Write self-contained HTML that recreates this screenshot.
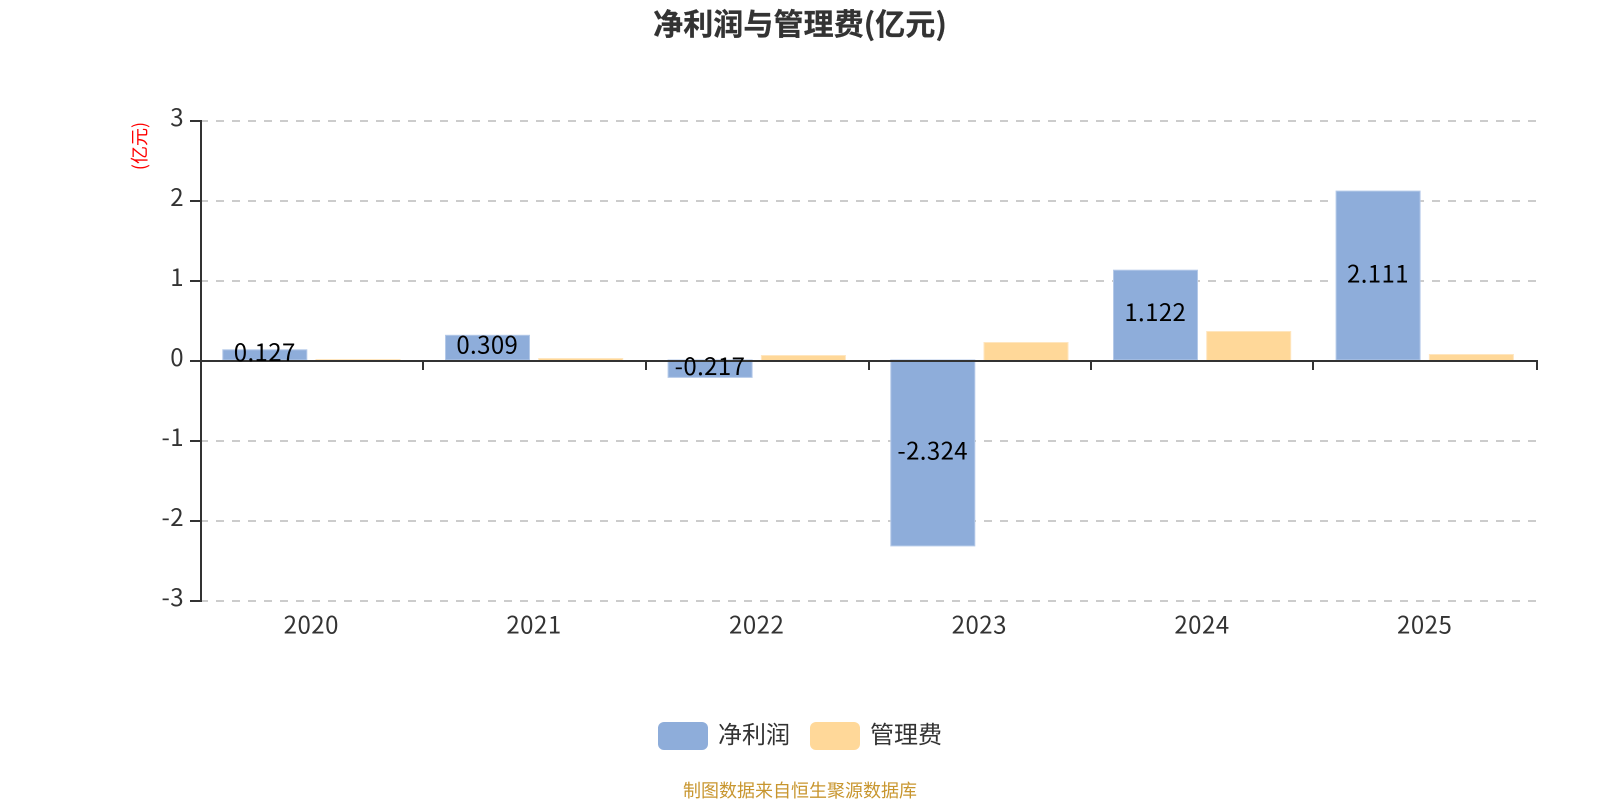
<!DOCTYPE html>
<html lang="zh">
<head>
<meta charset="utf-8">
<style>
html,body{margin:0;padding:0;background:#fff;width:1600px;height:800px;overflow:hidden}
svg{display:block}
text{font-family:"Noto Sans CJK SC","Liberation Sans",sans-serif}
</style>
</head>
<body>
<svg width="1600" height="800" viewBox="0 0 1600 800" xmlns="http://www.w3.org/2000/svg">
<rect width="1600" height="800" fill="#fff"/>
<text x="800" y="35" text-anchor="middle" font-size="30" font-weight="700" fill="#333" stroke="#333" stroke-width="0.3" letter-spacing="0.1">净利润与管理费(亿元)</text>
<g stroke="#ccc" stroke-width="2" stroke-dasharray="8 8">
<line x1="200" x2="1536" y1="121" y2="121"/>
<line x1="200" x2="1536" y1="201" y2="201"/>
<line x1="200" x2="1536" y1="281" y2="281"/>
<line x1="200" x2="1536" y1="441" y2="441"/>
<line x1="200" x2="1536" y1="521" y2="521"/>
<line x1="200" x2="1536" y1="601" y2="601"/>
</g>
<g fill="#8eadda" stroke="#b4c9e8" stroke-width="1">
<rect x="222.8" y="349.8" width="84" height="10.2"/>
<rect x="445.5" y="335.3" width="84" height="24.7"/>
<rect x="668.1" y="360" width="84" height="17.4"/>
<rect x="890.8" y="360" width="84" height="185.9"/>
<rect x="1113.5" y="270.2" width="84" height="89.8"/>
<rect x="1336.1" y="191.1" width="84" height="168.9"/>
</g>
<g fill="#ffd899" stroke="#ffe6bf" stroke-width="1">
<rect x="316" y="359.5" width="84" height="1"/>
<rect x="538.7" y="358.5" width="84" height="2"/>
<rect x="761.4" y="355.5" width="84" height="5"/>
<rect x="984" y="342.5" width="84" height="18"/>
<rect x="1206.7" y="331.5" width="84" height="29"/>
<rect x="1429.4" y="354.5" width="84" height="6"/>
</g>
<g fill="#333">
<rect x="200" y="120" width="2" height="482"/>
<rect x="200" y="360" width="1338" height="2"/>
<rect x="190" y="120" width="10" height="2"/>
<rect x="190" y="200" width="10" height="2"/>
<rect x="190" y="280" width="10" height="2"/>
<rect x="190" y="360" width="10" height="2"/>
<rect x="190" y="440" width="10" height="2"/>
<rect x="190" y="520" width="10" height="2"/>
<rect x="190" y="600" width="10" height="2"/>
<rect x="422" y="362" width="2" height="8"/>
<rect x="645" y="362" width="2" height="8"/>
<rect x="868" y="362" width="2" height="8"/>
<rect x="1090" y="362" width="2" height="8"/>
<rect x="1312" y="362" width="2" height="8"/>
<rect x="1536" y="362" width="2" height="8"/>
</g>
<g font-size="24" fill="#333" text-anchor="end" letter-spacing="0.4">
<text x="184" y="126">3</text>
<text x="184" y="206">2</text>
<text x="184" y="286">1</text>
<text x="184" y="366">0</text>
<text x="184" y="446">-1</text>
<text x="184" y="526">-2</text>
<text x="184" y="606">-3</text>
</g>
<g font-size="24" fill="#333" text-anchor="middle" letter-spacing="0.5">
<text x="311.3" y="633.5">2020</text>
<text x="534" y="633.5">2021</text>
<text x="756.7" y="633.5">2022</text>
<text x="979.3" y="633.5">2023</text>
<text x="1202" y="633.5">2024</text>
<text x="1424.7" y="633.5">2025</text>
</g>
<g font-size="24" fill="#000" text-anchor="middle" letter-spacing="0.4">
<text x="264.7" y="361">0.127</text>
<text x="487.3" y="353.5">0.309</text>
<text x="710" y="375">-0.217</text>
<text x="932.7" y="459.5">-2.324</text>
<text x="1155.3" y="321">1.122</text>
<text x="1378" y="282.7">2.111</text>
</g>
<text transform="translate(146,146) rotate(-90)" text-anchor="middle" font-size="18" fill="#f00">(亿元)</text>
<rect x="658" y="722" width="50" height="28" rx="6" fill="#8eadda"/>
<rect x="810" y="722" width="50" height="28" rx="6" fill="#ffd899"/>
<text x="718" y="743" font-size="24" fill="#333">净利润</text>
<text x="870" y="743" font-size="24" fill="#333">管理费</text>
<text x="800" y="797" text-anchor="middle" font-size="18" fill="#c8962f">制图数据来自恒生聚源数据库</text>
</svg>
</body>
</html>
